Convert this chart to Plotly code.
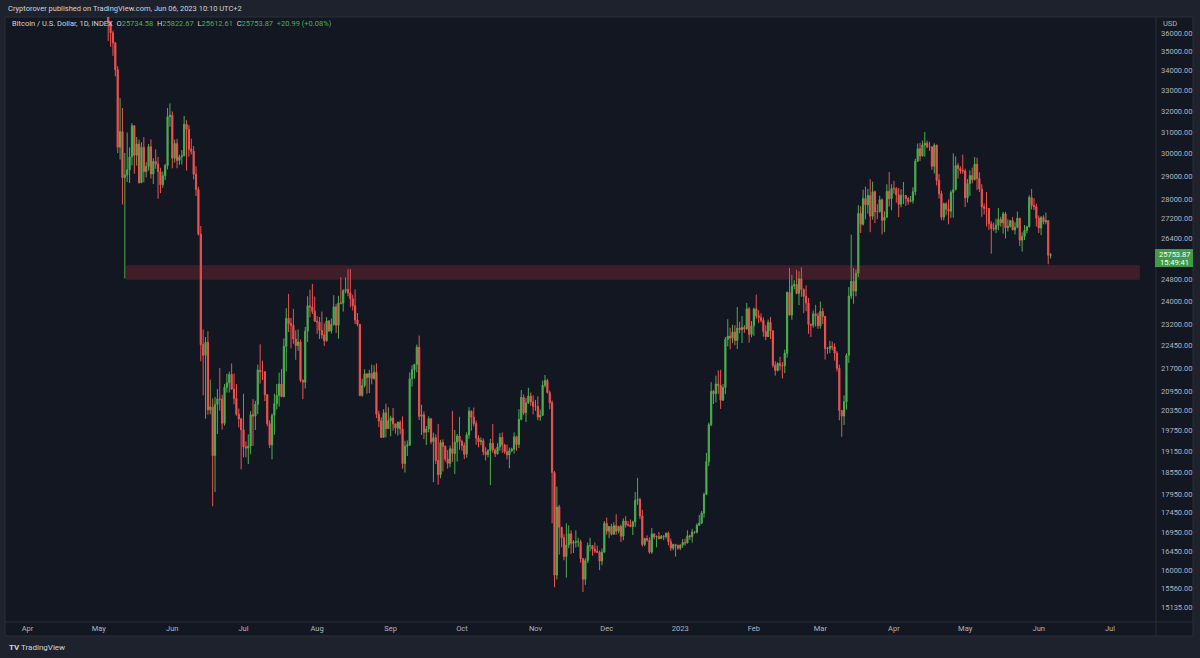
import pandas as pd
import plotly.graph_objects as go

# ---------------- data (daily BTC/USD INDEX, 2022-05-05 .. 2023-06-06) ----------------
start_date = "2022-05-05"

opens = [
    # May 2022 (5..31)
    39690,36550,36010,35470,34060,30300,31020,28940,29050,29280,29860,31300,29930,30440,28720,30300,29200,29430,30320,29100,29650,29540,29200,28630,29020,29470,31730,
    # Jun 2022
    31800,29800,30470,29700,29860,29910,31370,31130,30210,30110,29090,28420,26570,22490,22130,22570,20380,20470,19020,20550,20720,20710,19970,21090,21230,21500,21030,20730,20250,20100,
    # Jul 2022
    19780,19270,19240,19300,20230,20190,20550,21640,21590,21590,20850,19960,19330,20210,20570,20830,21190,20790,22430,23400,23220,23150,22680,22460,22580,21310,21250,22950,23850,23800,23650,
    # Aug 2022
    23300,23270,22980,22820,22620,23310,22960,23180,23810,23160,23950,23940,24400,24440,24310,24100,23850,23340,23190,20830,21140,21520,21400,21530,21370,21570,20250,20040,19550,20290,19810,
    # Sep 2022
    20050,20130,19950,19830,20000,19800,18790,19290,19320,21360,21650,21830,22400,20180,20230,19700,19800,20110,19420,19540,18880,18480,19400,19290,18920,18800,19220,19080,19410,19590,
    # Oct 2022
    19430,19310,19060,19620,20340,20160,19960,19530,19420,19450,19130,19050,19160,19380,19180,19070,19270,19550,19330,19130,19040,19160,19210,19570,19340,20090,20770,20290,20600,20810,20630,
    # Nov 2022
    20490,20480,20160,20210,21150,21300,20920,20600,18540,15880,17600,17070,16800,16330,16620,16900,16660,16690,16700,16700,16280,15780,16230,16600,16600,16520,16460,16440,16220,16440,
    # Dec 2022
    17170,16970,17090,16890,17110,16970,17090,16840,17230,17130,17130,17090,17210,17780,17800,17360,16630,16780,16740,16440,16900,16820,16830,16780,16840,16830,16920,16700,16540,16630,16600,
    # Jan 2023
    16540,16620,16680,16670,16850,16830,16950,16940,17120,17180,17440,17940,18850,19930,20960,20880,21190,21140,20680,21080,22670,22780,22710,22920,22630,23060,23010,23080,23030,23740,22840,
    # Feb 2023
    23140,23730,23490,23430,23330,22940,22760,23260,22960,21800,21630,21860,21790,21780,22200,24330,23520,24570,24630,24300,24840,24440,24190,23950,23190,23160,23560,23490,
    # Mar 2023
    23140,23650,23470,22360,22350,22430,22410,22200,21700,20360,20190,20630,22130,24200,24750,24380,25050,27420,26970,28040,27770,28170,27300,28330,27490,27490,27990,27130,27260,28350,28030,
    # Apr 2023
    28470,28460,28200,27800,28170,28170,28040,27920,27950,28330,29660,30230,29900,30400,30480,30320,30310,29440,30390,28820,28240,27260,27820,27590,27510,28300,28420,29470,29340,29250,
    # May 2023
    29230,28070,28680,29030,28850,29530,28900,28450,27690,27630,27620,26990,26800,26780,26930,27170,27030,27400,26830,26890,27120,26750,26850,27220,26330,26480,26720,26870,28080,27750,27700,
    # Jun 2023 (1..6)
    27220,26820,27250,27070,27120,25734.58,
]

highs = [
    39850,36650,36130,35500,34240,32630,32150,30040,30980,30290,31420,31310,30770,30650,30530,30760,29620,30450,30660,29800,30200,29860,29370,29200,29550,32150,32370,
    31980,30650,30680,29960,30170,31760,31560,31330,30690,30350,29440,28540,26900,23010,22750,22950,21330,20730,20780,21030,21710,20850,21190,21520,21590,21860,21530,21190,20420,20140,
    20880,19430,19640,20340,20710,20660,21820,22500,21950,21600,20870,20060,20270,20880,21190,21560,21670,22700,23760,24280,23420,23740,22980,23010,22660,21340,23100,24190,24430,24650,24180,
    23480,23450,23640,23220,23440,23340,23390,24230,23920,24210,24900,24450,24890,25200,25210,24250,24440,23590,23200,21360,21670,21520,21650,21820,21800,21860,20350,20150,20400,20570,20460,
    20200,20440,19960,20020,20060,20180,19450,19460,21560,21800,21840,22490,22800,20540,20330,19890,20180,20110,19690,19640,19950,19480,19490,19310,19180,19310,20350,19770,19650,20170,
    19480,19400,19700,20460,20360,20450,20050,19610,19550,19520,19260,19210,19510,19950,19230,19380,19680,19700,19360,19340,19250,19250,19700,19600,20400,21000,20860,20750,21070,20920,20830,
    20690,20800,20390,21300,21480,21360,20980,20670,18580,18150,17660,17080,16890,17170,17120,16990,16740,16990,16800,16750,16290,16290,16680,16800,16620,16680,16600,16480,16530,17230,
    17320,17100,17160,17200,17410,17110,17140,17300,17360,17230,17270,17240,18000,18390,17850,17530,16800,16860,16810,17050,16910,16860,16950,16870,16870,16930,16960,16780,16650,16650,16630,
    16630,16770,16780,16990,16880,17030,16960,17170,17390,17490,17990,19100,19990,21250,21000,21460,21630,21650,21190,22750,23370,23070,23170,23160,23800,23280,23480,23160,23950,23800,23300,
    23780,24250,23690,23580,23430,23160,23360,23450,22990,21930,21900,22080,21900,22320,24370,25250,24990,24790,25180,25120,25270,24480,24590,24130,23210,23680,23880,23600,
    24000,23770,23480,22410,22620,22590,22530,22270,21820,20370,20830,22200,24530,26550,25250,25190,27760,27720,28420,28550,28450,28870,28760,28380,27800,28160,28040,27500,28650,29180,28650,
    28800,28530,28490,28440,28750,28180,28100,28150,28520,29770,30470,30500,30600,31000,30600,30550,30330,30480,30420,29100,28370,27870,27880,28000,28390,30020,29880,29580,29440,29960,
    29330,28880,29260,29380,29850,29820,29170,28650,27830,28320,27640,27100,27040,27200,27640,27280,27480,27480,27170,27150,27270,27050,27490,27230,26640,26940,26910,28180,28440,28050,27830,
    27330,27310,27340,27450,27130,25822.67,
]

lows = [
    35570,35260,34780,33720,30030,29740,27790,24850,28750,28700,29480,29110,29470,28680,28700,28740,28950,29250,28900,28660,29330,28030,28270,28500,28830,29300,31250,
    29350,29600,29350,29500,29520,29890,29250,29870,29970,28860,28150,26520,21930,20830,20110,20230,20240,17620,18000,19650,20360,19780,19900,20920,20920,21000,20550,20200,19850,18630,
    18970,18970,18780,19060,19300,19770,20250,21200,21320,20650,19880,19240,18910,19630,20390,20480,20770,20770,21600,22920,22360,22520,21980,22280,21250,20710,21050,22580,23440,23550,23270,
    22860,22680,22690,22440,22590,22930,22870,23150,22890,22690,23900,23640,24300,24190,23800,23680,23200,23120,20800,20790,21080,20880,20900,21180,21330,20130,19860,19530,19550,19550,19800,
    19580,19750,19660,19600,19640,18650,18540,19010,19300,21110,21360,21570,20070,19620,19500,19330,19700,19350,18270,18780,18200,18380,18570,18850,18650,18690,18840,18500,18850,19190,
    19160,18920,18960,19510,19750,19880,19330,19260,19320,19030,18880,18970,18190,19100,18980,19050,19160,19100,19070,18910,18660,19120,19080,19160,19240,20060,20220,20010,20560,20500,20240,
    20350,20060,20050,20190,21080,20890,20400,17170,15590,15780,16380,16560,16240,15820,16540,16400,16420,16560,16570,16180,15480,15650,16170,16460,16350,16420,16420,16000,16120,16430,
    16880,16790,16860,16880,16880,16910,16690,16740,17060,17090,17070,16870,17080,17660,17280,16580,16590,16700,16400,16400,16760,16560,16760,16770,16740,16780,16610,16470,16490,16330,16500,
    16490,16550,16600,16660,16750,16680,16900,16910,17110,17150,17320,17920,18720,19890,20560,20610,20880,20410,20660,20870,22430,22330,22540,22470,22340,22880,22540,22890,23000,22560,22740,
    22790,23380,23230,23260,22760,22640,22750,22680,21720,21460,21600,21630,21370,21540,22050,23500,23350,24450,24270,23870,24170,23580,23650,22860,22750,23070,23110,23030,
    23040,23200,21990,22170,22200,22300,21950,21600,20060,19570,19920,20390,21880,24090,23920,24190,24900,26620,26920,27170,27400,26650,27160,27020,27180,27450,26560,26650,27240,27700,27550,
    28250,27870,27260,27670,27810,27730,27780,27880,27830,28170,29630,29680,29880,29870,30250,30130,29280,29120,28600,28040,27140,27130,27340,26970,27230,27240,28390,28900,29110,29110,
    27680,27870,28150,28690,28820,28400,28320,27280,27370,26880,26740,25800,26700,26610,26730,26870,26590,26400,26680,26840,26720,26560,26810,26100,25880,26340,26600,26840,27580,27560,26880,
    26620,26530,26970,26970,25390,25612.61,
]

closes = [
    36550,36010,35470,34060,30300,31020,28940,29050,29280,29860,31300,29930,30440,28720,30300,29200,29430,30320,29100,29650,29540,29200,28630,29020,29470,31730,31800,
    29800,30470,29700,29860,29910,31370,31130,30210,30110,29090,28420,26570,22490,22130,22570,20380,20470,19020,20550,20720,20710,19970,21090,21230,21500,21030,20730,20250,20100,19780,
    19270,19240,19300,20230,20190,20550,21640,21590,21590,20850,19960,19330,20210,20570,20830,21190,20790,22430,23400,23220,23150,22680,22460,22580,21310,21250,22950,23850,23800,23650,23300,
    23270,22980,22820,22620,23310,22960,23180,23810,23160,23950,23940,24400,24440,24310,24100,23850,23340,23190,20830,21140,21520,21400,21530,21370,21570,20250,20040,19550,20290,19810,20050,
    20130,19950,19830,20000,19800,18790,19290,19320,21360,21650,21830,22400,20180,20230,19700,19800,20110,19420,19540,18880,18480,19400,19290,18920,18800,19220,19080,19410,19590,19430,
    19310,19060,19620,20340,20160,19960,19530,19420,19450,19130,19050,19160,19380,19180,19070,19270,19550,19330,19130,19040,19160,19210,19570,19340,20090,20770,20290,20600,20810,20630,20490,
    20480,20160,20210,21150,21300,20920,20600,18540,15880,17600,17070,16800,16330,16620,16900,16660,16690,16700,16700,16280,15780,16230,16600,16600,16520,16460,16440,16220,16440,17170,
    16970,17090,16890,17110,16970,17090,16840,17230,17130,17130,17090,17210,17780,17800,17360,16630,16780,16740,16440,16900,16820,16830,16780,16840,16830,16920,16700,16540,16630,16600,16540,
    16620,16680,16670,16850,16830,16950,16940,17120,17180,17440,17940,18850,19930,20960,20880,21190,21140,20680,21080,22670,22780,22710,22920,22630,23060,23010,23080,23030,23740,22840,23140,
    23730,23490,23430,23330,22940,22760,23260,22960,21800,21630,21860,21790,21780,22200,24330,23520,24570,24630,24300,24840,24440,24190,23950,23190,23160,23560,23490,23140,
    23650,23470,22360,22350,22430,22410,22200,21700,20360,20190,20630,22130,24200,24750,24380,25050,27420,26970,28040,27770,28170,27300,28330,27490,27490,27990,27130,27260,28350,28030,28470,
    28460,28200,27800,28170,28170,28040,27920,27950,28330,29660,30230,29900,30400,30480,30320,30310,29440,30390,28820,28240,27260,27820,27590,27510,28300,28420,29470,29340,29250,29230,
    28070,28680,29030,28850,29530,28900,28450,27690,27630,27620,26990,26800,26780,26930,27170,27030,27400,26830,26890,27120,26750,26850,27220,26330,26480,26720,26870,28080,27750,27700,27220,
    26820,27250,27070,27120,25734.58,25753.87,
]

# support zone (drawn rectangle)
zone_x = ["2022-05-12 12:00", "2023-07-13 14:00"]
zone_y = [24800, 25350]

# axis ticks
x_tickvals = ["2022-04-01", "2022-05-01", "2022-06-01", "2022-07-01", "2022-08-01", "2022-09-01",
              "2022-10-01", "2022-11-01", "2022-12-01", "2023-01-01", "2023-02-01", "2023-03-01",
              "2023-04-01", "2023-05-01", "2023-06-01", "2023-07-01"]
x_ticktext = ["Apr", "May", "Jun", "Jul", "Aug", "Sep", "Oct", "Nov", "Dec", "2023",
              "Feb", "Mar", "Apr", "May", "Jun", "Jul"]
y_tickvals = [36000, 35000, 34000, 33000, 32000, 31000, 30000, 29000, 28000, 27200, 26400,
              24800, 24000, 23200, 22450, 21700, 20950, 20350, 19750, 19150, 18550, 17950,
              17450, 16950, 16450, 16000, 15560, 15135]
x_range = ["2022-03-22 12:30", "2023-07-20 09:30"]
y_range_log = [4.1701, 4.5668]

last_o, last_h, last_l, last_c = "25734.58", "25822.67", "25612.61", "25753.87"
change_txt = "+20.99 (+0.08%)"
countdown = "15:49:41"

# ---------------- figure ----------------
W, H = 1200, 658
ML, MR, MT, MB = 5, 44, 17, 36
PW, PH = W - ML - MR, H - MT - MB

def px(xp):
    return (xp - ML) / PW

def py(yp):
    return (H - MB - yp) / PH

BG = "#131722"
OUT = "#1e222d"
GRID = "#2a2e39"
TXT = "#b2b5be"
UP = "#4caf50"
DOWN = "#ef5350"
FONT = "Roboto"

dates = pd.date_range(start_date, periods=len(closes), freq="D")

fig = go.Figure()
fig.add_trace(go.Candlestick(
    x=dates, open=opens, high=highs, low=lows, close=closes,
    increasing=dict(line=dict(color=UP, width=1), fillcolor=UP),
    decreasing=dict(line=dict(color=DOWN, width=1), fillcolor=DOWN),
    whiskerwidth=0, hoverinfo="skip", showlegend=False,
))
fig.add_trace(go.Scatter(
    x=[zone_x[0], zone_x[1], zone_x[1], zone_x[0], zone_x[0]],
    y=[zone_y[0], zone_y[0], zone_y[1], zone_y[1], zone_y[0]],
    mode="lines", fill="toself", fillcolor="rgba(242,54,69,0.2)",
    line=dict(width=0), hoverinfo="skip", showlegend=False,
))

shapes = [
    # chart panel
    dict(type="rect", xref="paper", yref="paper", x0=px(5), x1=px(1193), y0=py(636), y1=py(17),
         fillcolor=BG, line=dict(color=GRID, width=1), layer="below"),
    # price-axis separator
    dict(type="line", xref="paper", yref="paper", x0=px(1156), x1=px(1156), y0=py(636), y1=py(17),
         line=dict(color=GRID, width=1)),
    # time-axis separator
    dict(type="line", xref="paper", yref="paper", x0=px(5), x1=px(1193), y0=py(622), y1=py(622),
         line=dict(color=GRID, width=1)),
    # last price label box
    dict(type="rect", xref="paper", yref="paper", x0=px(1155), x1=px(1193), y0=py(267), y1=py(249),
         fillcolor="#3d9c45", line=dict(width=0)),
]

annotations = [
    dict(xref="paper", yref="paper", x=px(6), y=py(9), xanchor="left", yanchor="middle",
         text="Cryptorover published on TradingView.com, Jun 06, 2023 10:10 UTC+2",
         showarrow=False, font=dict(family=FONT, size=7.5, color="#d1d4dc")),
    dict(xref="paper", yref="paper", x=px(10), y=py(24), xanchor="left", yanchor="middle",
         text=("Bitcoin / U.S. Dollar, 1D, INDEX  "
               f"O<span style='color:{UP}'>{last_o}</span>  "
               f"H<span style='color:{UP}'>{last_h}</span>  "
               f"L<span style='color:{UP}'>{last_l}</span>  "
               f"C<span style='color:{UP}'>{last_c}</span>  "
               f"<span style='color:{UP}'>{change_txt}</span>"),
         showarrow=False, font=dict(family=FONT, size=7.5, color="#d1d4dc")),
    dict(xref="paper", yref="paper", x=px(1161), y=py(23), xanchor="left", yanchor="middle",
         text="USD", showarrow=False, font=dict(family=FONT, size=7.5, color=TXT)),
    dict(xref="paper", yref="paper", x=px(1174), y=py(254), xanchor="center", yanchor="middle",
         text=last_c, showarrow=False, font=dict(family=FONT, size=7.5, color="#ffffff")),
    dict(xref="paper", yref="paper", x=px(1174), y=py(262), xanchor="center", yanchor="middle",
         text=countdown, showarrow=False, font=dict(family=FONT, size=7.5, color="#ffffff")),
    dict(xref="paper", yref="paper", x=px(7), y=py(647), xanchor="left", yanchor="middle",
         text="<b>TV</b> TradingView", showarrow=False,
         font=dict(family=FONT, size=8, color="#d1d4dc")),
]

fig.update_layout(
    width=W, height=H,
    margin=dict(l=ML, r=MR, t=MT, b=MB, pad=0),
    paper_bgcolor=OUT, plot_bgcolor=BG,
    showlegend=False,
    shapes=shapes, annotations=annotations,
    font=dict(family=FONT, size=7.5, color=TXT),
    hovermode=False,
    xaxis=dict(type="date", range=x_range, rangeslider=dict(visible=False),
               tickvals=x_tickvals, ticktext=x_ticktext, showgrid=False, zeroline=False,
               showline=False, ticks="", tickfont=dict(family=FONT, size=7.5, color=TXT),
               fixedrange=True),
    yaxis=dict(type="log", range=y_range_log, side="right",
               tickvals=y_tickvals, ticktext=[f"{v:.2f}" for v in y_tickvals],
               showgrid=False, zeroline=False, showline=False, ticks="",
               ticklabelstandoff=4,
               tickfont=dict(family=FONT, size=7.5, color=TXT), fixedrange=True),
)

fig.write_html("out.html")
